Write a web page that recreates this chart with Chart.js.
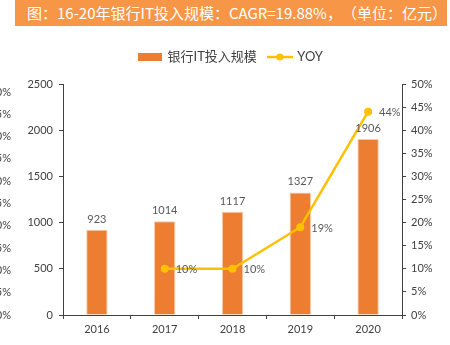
<!DOCTYPE html>
<html>
<head>
<meta charset="utf-8">
<script src="https://cdn.jsdelivr.net/npm/chart.js@4/dist/chart.umd.min.js"></script>
<style>
  html, body { margin: 0; padding: 0; background: #fff; }
  #wrap { position: relative; width: 450px; height: 345px; overflow: hidden; }
  #title {
    position: absolute; left: 15px; top: 0; width: 420px; height: 26px;
    padding-left: 12px; background: #F79646; color: #fff;
    font: 15px "Noto Sans CJK SC", sans-serif; line-height: 26px; white-space: nowrap;
    text-spacing-trim: space-all; font-feature-settings: "palt" 0;
  }
  canvas { position: absolute; left: 0; top: 0; }
</style>
</head>
<body>
<div id="wrap">
  <canvas id="c" width="450" height="345"></canvas>
  <div id="title">图：16-20年银行IT投入规模：CAGR=19.88%，（单位：亿元）</div>
</div>
<script>
// Bank IT spending, 2016-2020 (unit: 100 million yuan) and year-on-year growth
const years = ['2016', '2017', '2018', '2019', '2020'];
const itSpend = [923, 1014, 1117, 1327, 1906];
const yoyGrowth = [null, 10, 10, 19, 44];
const spendTicks = [0, 500, 1000, 1500, 2000, 2500];
const pctTicks = [0, 5, 10, 15, 20, 25, 30, 35, 40, 45, 50];

const BAR = '#ED7D31';
const LINE = '#FFC000';
const AXIS = '#404040';
const TICKFONT = { family: 'Lato, "Noto Sans CJK SC", sans-serif', size: 11 };

// legend swatches: a filled block and a line with a dot
function swatchBar() {
  const c = document.createElement('canvas');
  c.width = 24; c.height = 8;
  const x = c.getContext('2d');
  x.fillStyle = BAR; x.fillRect(0, 0, 24, 8);
  return c;
}
function swatchLine() {
  const c = document.createElement('canvas');
  c.width = 26; c.height = 10;
  const x = c.getContext('2d');
  x.strokeStyle = LINE; x.lineWidth = 2.5;
  x.beginPath(); x.moveTo(0, 5); x.lineTo(26, 5); x.stroke();
  x.fillStyle = LINE; x.beginPath(); x.arc(13, 5, 3.5, 0, Math.PI * 2); x.fill();
  return c;
}

// extra room under the legend
const legendSpacer = {
  id: 'legendSpacer',
  afterInit(chart) {
    const lg = chart.legend;
    const fit = lg.fit;
    lg.fit = function () { fit.call(this); this.height += 10.5; };
  }
};

// value labels above bars and beside line points
const valueLabels = {
  id: 'valueLabels',
  afterDatasetsDraw(chart) {
    const ctx = chart.ctx;
    ctx.save();
    ctx.font = '11px Lato, sans-serif';
    ctx.fillStyle = '#595959';
    const barMeta = chart.getDatasetMeta(0);
    ctx.textAlign = 'center'; ctx.textBaseline = 'bottom';
    barMeta.data.forEach((el, i) => {
      ctx.fillText(String(itSpend[i]), el.x, el.y - 5);
    });
    const lineMeta = chart.getDatasetMeta(1);
    ctx.textAlign = 'left'; ctx.textBaseline = 'middle';
    lineMeta.data.forEach((el, i) => {
      if (yoyGrowth[i] == null) return;
      ctx.fillText(yoyGrowth[i] + '%', el.x + 11, el.y + 1);
    });
    ctx.restore();
  }
};

// second percentage scale along the far left edge
const edgeScale = {
  id: 'edgeScale',
  afterDraw(chart) {
    const s = chart.scales.yEdge;
    const ctx = chart.ctx;
    ctx.save();
    ctx.font = '11px Lato, sans-serif';
    ctx.fillStyle = AXIS;
    ctx.textAlign = 'right'; ctx.textBaseline = 'middle';
    pctTicks.forEach(v => ctx.fillText(v + '%', 11, s.getPixelForValue(v)));
    ctx.restore();
  }
};

new Chart(document.getElementById('c'), {
  data: {
    labels: years,
    datasets: [
      {
        type: 'bar', label: '银行IT投入规模', data: itSpend, yAxisID: 'y',
        backgroundColor: BAR, borderColor: '#F8C9A8', borderWidth: 1,
        categoryPercentage: 1, barPercentage: 0.315, order: 2
      },
      {
        type: 'line', label: 'YOY', data: yoyGrowth, yAxisID: 'y1',
        borderColor: LINE, backgroundColor: LINE, borderWidth: 2.5,
        pointRadius: 4, pointHoverRadius: 4, pointBackgroundColor: LINE,
        pointBorderWidth: 0, tension: 0, order: 1
      }
    ]
  },
  options: {
    responsive: false,
    animation: false,
    layout: { padding: { left: 12, right: 0, top: 38.5, bottom: 0 } },
    plugins: {
      tooltip: { enabled: false },
      legend: {
        position: 'top',
        labels: {
          usePointStyle: true,
          pointStyleWidth: 22,
          padding: 12,
          color: AXIS,
          font: { family: 'Lato, "Noto Sans CJK SC", sans-serif', size: 13 },
          generateLabels(chart) {
            return chart.data.datasets.map((d, i) => ({
              text: d.label,
              pointStyle: i === 0 ? swatchBar() : swatchLine(),
              fillStyle: d.backgroundColor, strokeStyle: d.backgroundColor,
              lineWidth: 0, hidden: false, datasetIndex: i, fontColor: AXIS
            }));
          }
        }
      }
    },
    scales: {
      x: {
        grid: { offset: true, drawOnChartArea: false, tickLength: 4, color: AXIS },
        border: { color: AXIS, width: 1 },
        ticks: { color: AXIS, font: TICKFONT, padding: 4 },
        afterFit(s) { s.height = 30; }
      },
      y: {
        position: 'left', min: 0, max: 2500,
        grid: { drawOnChartArea: false, tickLength: 4, color: AXIS },
        border: { color: AXIS, width: 1 },
        ticks: { stepSize: 500, color: AXIS, font: TICKFONT, padding: 6, callback: v => String(v) },
        afterBuildTicks(s) { s.ticks = spendTicks.map(v => ({ value: v })); },
        afterFit(s) { s.width = 51; }
      },
      y1: {
        position: 'right', min: 0, max: 50,
        grid: { drawOnChartArea: false, tickLength: 4, color: AXIS },
        border: { color: AXIS, width: 1 },
        ticks: { stepSize: 5, color: AXIS, font: TICKFONT, padding: 5, callback: v => v + '%' },
        afterBuildTicks(s) { s.ticks = pctTicks.map(v => ({ value: v })); },
        afterFit(s) { s.width = 48; }
      },
      yEdge: {
        position: 'left', display: false, min: 0, max: 51.8
      }
    }
  },
  plugins: [legendSpacer, valueLabels, edgeScale]
});
</script>
</body>
</html>
